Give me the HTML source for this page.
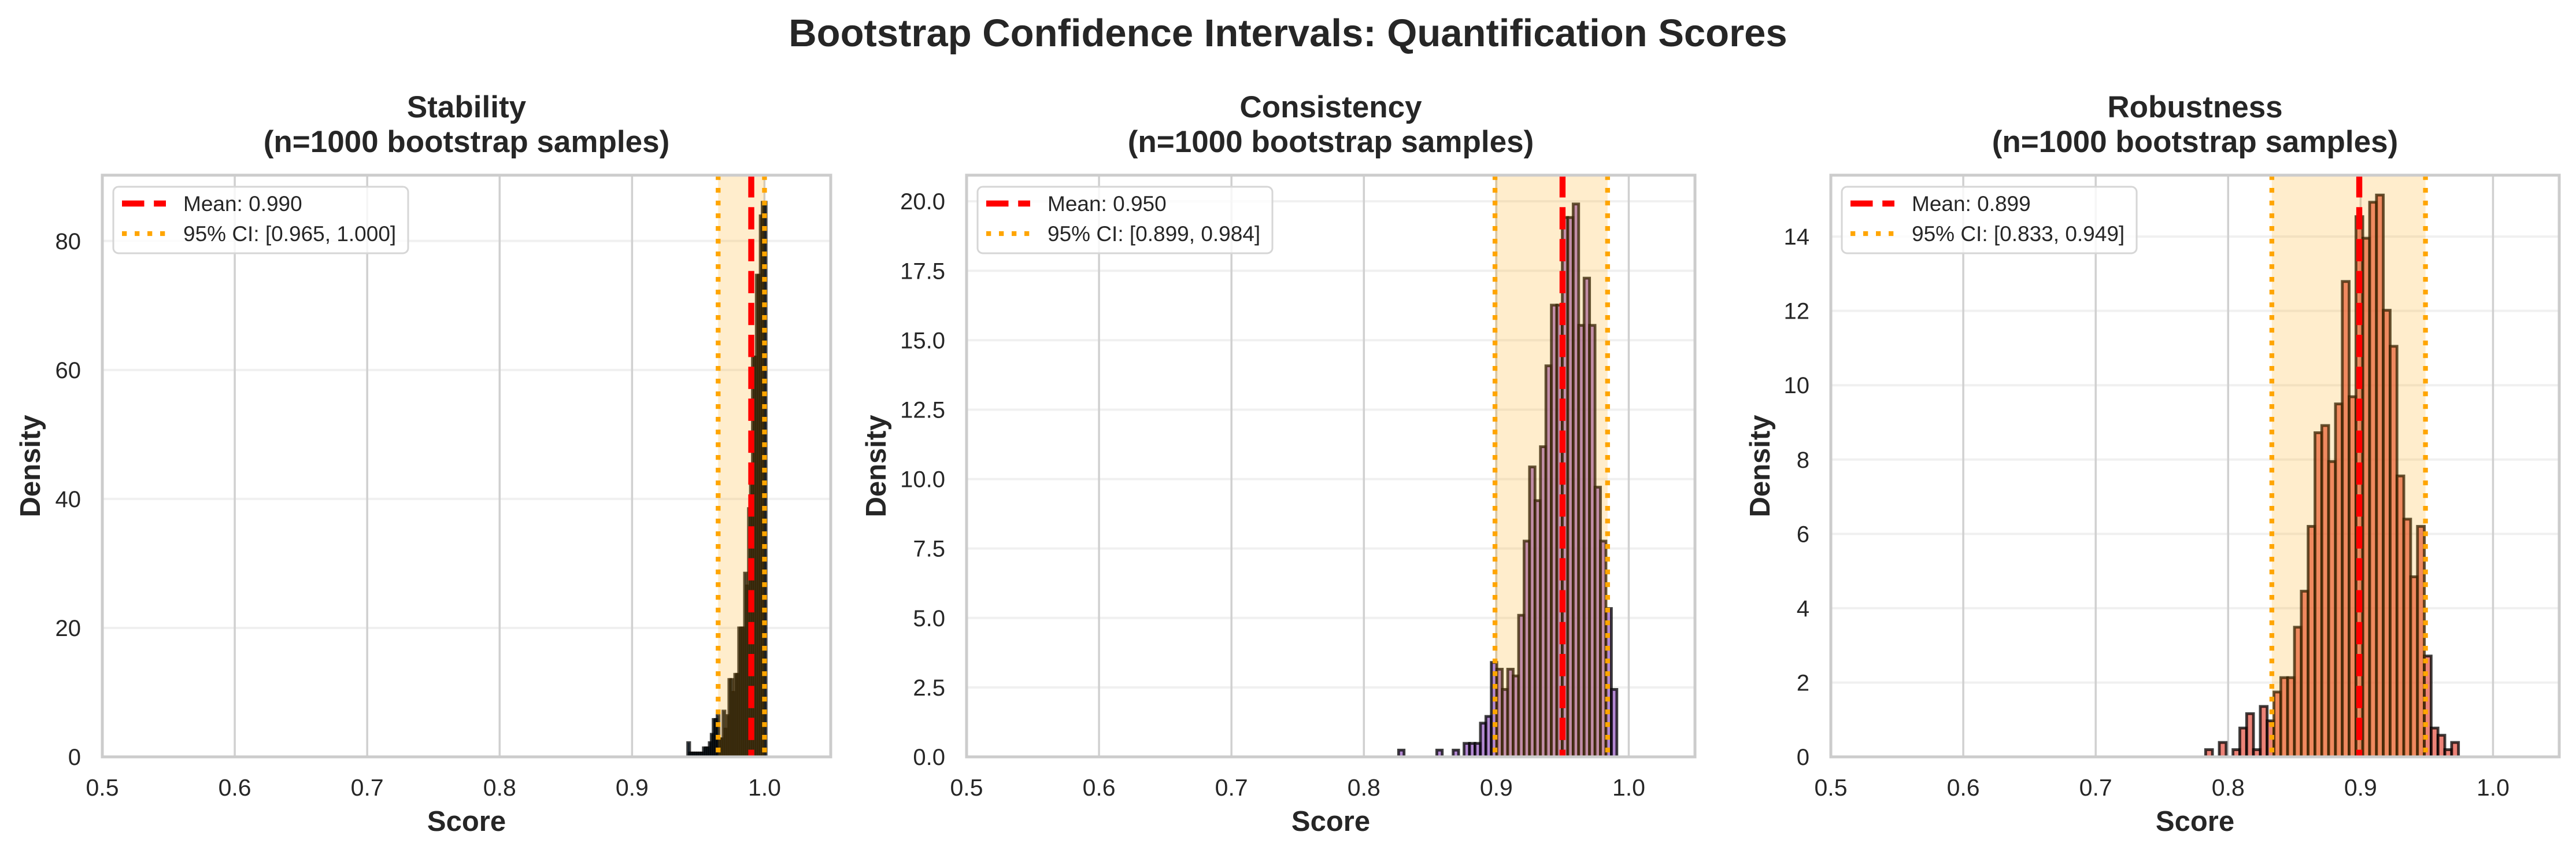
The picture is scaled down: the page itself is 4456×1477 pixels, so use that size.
<!DOCTYPE html>
<html><head><meta charset="utf-8"><style>
html,body{margin:0;padding:0;background:#fff;}
svg{display:block;font-family:"Liberation Sans",Arial,sans-serif;}
</style></head><body>
<svg id="fig" width="4456" height="1477" viewBox="0 0 4456 1477" xmlns="http://www.w3.org/2000/svg">
<rect x="0" y="0" width="4456" height="1477" fill="#ffffff"/>
<text x="2228" y="80" text-anchor="middle" font-size="67" font-weight="bold" fill="#262626">Bootstrap Confidence Intervals: Quantification Scores</text>
</svg>
<script>
// ---------- data ----------
const panelTitles = ["Stability", "Consistency", "Robustness"];
const xTicks = [0.5, 0.6, 0.7, 0.8, 0.9, 1.0];
const xTickLabels = ["0.5", "0.6", "0.7", "0.8", "0.9", "1.0"];

const stabilityBinStart = 0.942;
const stabilityBinWidth = 0.00148;
const stabilityDensity = [2.2,0.6,0.6,0.6,0.6,0.6,0.6,0.6,1.4,1.4,1.4,2.2,3.5,5.8,5.8,6.4,2.8,2.8,7.1,4.3,6.4,12,12,10,12.8,12.8,20,20,20,28.5,26.5,38.5,44,62,62,74.7,74.7,83.9,86,86];
const stabilityMean = 0.990;
const stabilityCI = [0.965, 1.000];
const stabilityYTicks = [0, 20, 40, 60, 80];
const stabilityYTickLabels = ["0", "20", "40", "60", "80"];
const stabilityYMax = 90.2;

const consistencyBinStart = 0.8262;
const consistencyBinWidth = 0.00412;
const consistencyCounts = [1,0,0,0,0,0,0,1,0,0,1,0,2,2,2,5,6,14,13,10,13,12,21,32,43,38,46,58,67,67,80,80,82,64,71,64,40,32,22,10];
const consistencyMean = 0.950;
const consistencyCI = [0.899, 0.984];
const consistencyYTicks = [0, 2.5, 5, 7.5, 10, 12.5, 15, 17.5, 20];
const consistencyYTickLabels = ["0.0", "2.5", "5.0", "7.5", "10.0", "12.5", "15.0", "17.5", "20.0"];
const consistencyYMax = 20.94;

const robustnessBinStart = 0.783;
const robustnessBinWidth = 0.00516;
const robustnessCounts = [1,0,2,0,1,4,6,1,7,5,9,11,11,18,23,32,45,46,41,49,66,50,75,72,77,78,62,57,39,33,25,32,14,4,3,1,2];
const robustnessMean = 0.899;
const robustnessCI = [0.833, 0.949];
const robustnessYTicks = [0, 2, 4, 6, 8, 10, 12, 14];
const robustnessYTickLabels = ["0", "2", "4", "6", "8", "10", "12", "14"];
const robustnessYMax = 15.65;

const nSamples = 1000;

// ---------- drawing ----------
const NS = "http://www.w3.org/2000/svg";
const svg = document.getElementById("fig");
const XMIN = 0.5, XMAX = 1.05;
const PLOT_TOP = 303, PLOT_BOTTOM = 1309, PLOT_W = 1260;
const lefts = [177, 1672, 3167];
const yTitleOffsets = [125, 157, 123];

function mk(tag, attrs, parent) {
  const e = document.createElementNS(NS, tag);
  for (const k in attrs) e.setAttribute(k, attrs[k]);
  (parent || svg).appendChild(e);
  return e;
}

function drawPanel(idx, slug, binStart, binWidth, dens, mean, ci, yTicks, yTickLabels, yMax, fill) {
  const L = lefts[idx];
  const xs = v => L + (v - XMIN) / (XMAX - XMIN) * PLOT_W;
  const ys = v => PLOT_BOTTOM - v / yMax * (PLOT_BOTTOM - PLOT_TOP);
  const g = mk("g", {});
  
  

  mk("rect", {x: L, y: PLOT_TOP, width: PLOT_W, height: PLOT_BOTTOM - PLOT_TOP, fill: "#fff"}, g);

  yTicks.forEach((t, i) => {
    const y = ys(t);
    const ln = mk("line", {x1: L, x2: L + PLOT_W, y1: y, y2: y, stroke: "#f0f0f0", "stroke-width": 4}, g);
    
    
    const tx = mk("text", {x: L - 37, y: y + 14, "text-anchor": "end", "font-size": 40, fill: "#262626"}, g);
    tx.textContent = yTickLabels[i];
    
    
  });
  xTicks.forEach((t, i) => {
    const x = xs(t);
    const ln = mk("line", {x1: x, x2: x, y1: PLOT_TOP, y2: PLOT_BOTTOM, stroke: "#d0d0d0", "stroke-width": 3.5}, g);
    
    
    const tx = mk("text", {x: x, y: 1376, "text-anchor": "middle", "font-size": 41, fill: "#262626"}, g);
    tx.textContent = xTickLabels[i];
    
    
  });

  dens.forEach((d, i) => {
    if (d <= 0) return;
    const x0 = xs(binStart + i * binWidth), x1 = xs(binStart + (i + 1) * binWidth);
    const r = mk("rect", {x: x0, y: ys(d), width: x1 - x0, height: PLOT_BOTTOM - ys(d),
      fill: fill, "fill-opacity": 0.75, stroke: "#000", "stroke-opacity": 0.75, "stroke-width": 4.8}, g);
    
    
  });

  const span = mk("rect", {x: xs(ci[0]), y: PLOT_TOP, width: xs(ci[1]) - xs(ci[0]), height: PLOT_BOTTOM - PLOT_TOP, fill: "#ffa500", "fill-opacity": 0.2}, g);
  
  
  ci.forEach(c => {
    const ln = mk("line", {x1: xs(c), x2: xs(c), y1: PLOT_TOP, y2: PLOT_BOTTOM, stroke: "#ffa500", "stroke-width": 8.3, "stroke-dasharray": "8.3 13.7"}, g);
    
    
  });
  const ml = mk("line", {x1: xs(mean), x2: xs(mean), y1: PLOT_TOP, y2: PLOT_BOTTOM, stroke: "#ff0000", "stroke-width": 10.4, "stroke-dasharray": "38.5 16.7"}, g);
  
  

  const sp = mk("rect", {x: L, y: PLOT_TOP, width: PLOT_W, height: PLOT_BOTTOM - PLOT_TOP, fill: "none", stroke: "#cccccc", "stroke-width": 5}, g);
  
  

  const cx = L + PLOT_W / 2;
  const t1 = mk("text", {x: cx, y: 203, "text-anchor": "middle", "font-size": 53, "font-weight": "bold", fill: "#262626"}, g);
  t1.textContent = panelTitles[idx];
  
  
  const t2 = mk("text", {x: cx, y: 263, "text-anchor": "middle", "font-size": 53, "font-weight": "bold", fill: "#262626"}, g);
  t2.textContent = "(n=" + nSamples + " bootstrap samples)";
  
  
  const xl = mk("text", {x: cx, y: 1437, "text-anchor": "middle", "font-size": 49, "font-weight": "bold", fill: "#262626"}, g);
  xl.textContent = "Score";
  
  
  const ycy = (PLOT_TOP + PLOT_BOTTOM) / 2, ycx = L - yTitleOffsets[idx] + 17;
  const yl = mk("text", {x: ycx, y: ycy, "text-anchor": "middle", "font-size": 49, "font-weight": "bold", fill: "#262626", transform: "rotate(-90 " + ycx + " " + ycy + ")"}, g);
  yl.textContent = "Density";
  
  

  const lg = mk("g", {}, g);
  
  
  mk("rect", {x: L + 19, y: 323, width: 510, height: 115, rx: 9, fill: "#fff", "fill-opacity": 0.8, stroke: "#d6d6d6", "stroke-width": 3}, lg);
  const e1 = mk("g", {}, lg);
  
  
  mk("line", {x1: L + 34, x2: L + 110, y1: 352, y2: 352, stroke: "#ff0000", "stroke-width": 10.4, "stroke-dasharray": "38.5 16.7"}, e1);
  const lt1 = mk("text", {x: L + 140, y: 365, "font-size": 37, fill: "#262626"}, e1);
  lt1.textContent = "Mean: " + mean.toFixed(3);
  const e2 = mk("g", {}, lg);
  
  
  mk("line", {x1: L + 34, x2: L + 110, y1: 404, y2: 404, stroke: "#ffa500", "stroke-width": 8.3, "stroke-dasharray": "8.3 13.7"}, e2);
  const lt2 = mk("text", {x: L + 140, y: 417, "font-size": 37, fill: "#262626"}, e2);
  lt2.textContent = "95% CI: [" + ci[0].toFixed(3) + ", " + ci[1].toFixed(3) + "]";
}

const consistencyDensity = consistencyCounts.map(c => c / (nSamples * consistencyBinWidth));
const robustnessDensity = robustnessCounts.map(c => c / (nSamples * robustnessBinWidth));

drawPanel(0, "stability", stabilityBinStart, stabilityBinWidth, stabilityDensity, stabilityMean, stabilityCI, stabilityYTicks, stabilityYTickLabels, stabilityYMax, "#3a6c9c");
drawPanel(1, "consistency", consistencyBinStart, consistencyBinWidth, consistencyDensity, consistencyMean, consistencyCI, consistencyYTicks, consistencyYTickLabels, consistencyYMax, "#9a62c4");
drawPanel(2, "robustness", robustnessBinStart, robustnessBinWidth, robustnessDensity, robustnessMean, robustnessCI, robustnessYTicks, robustnessYTickLabels, robustnessYMax, "#e5584a");
</script>
</body></html>
